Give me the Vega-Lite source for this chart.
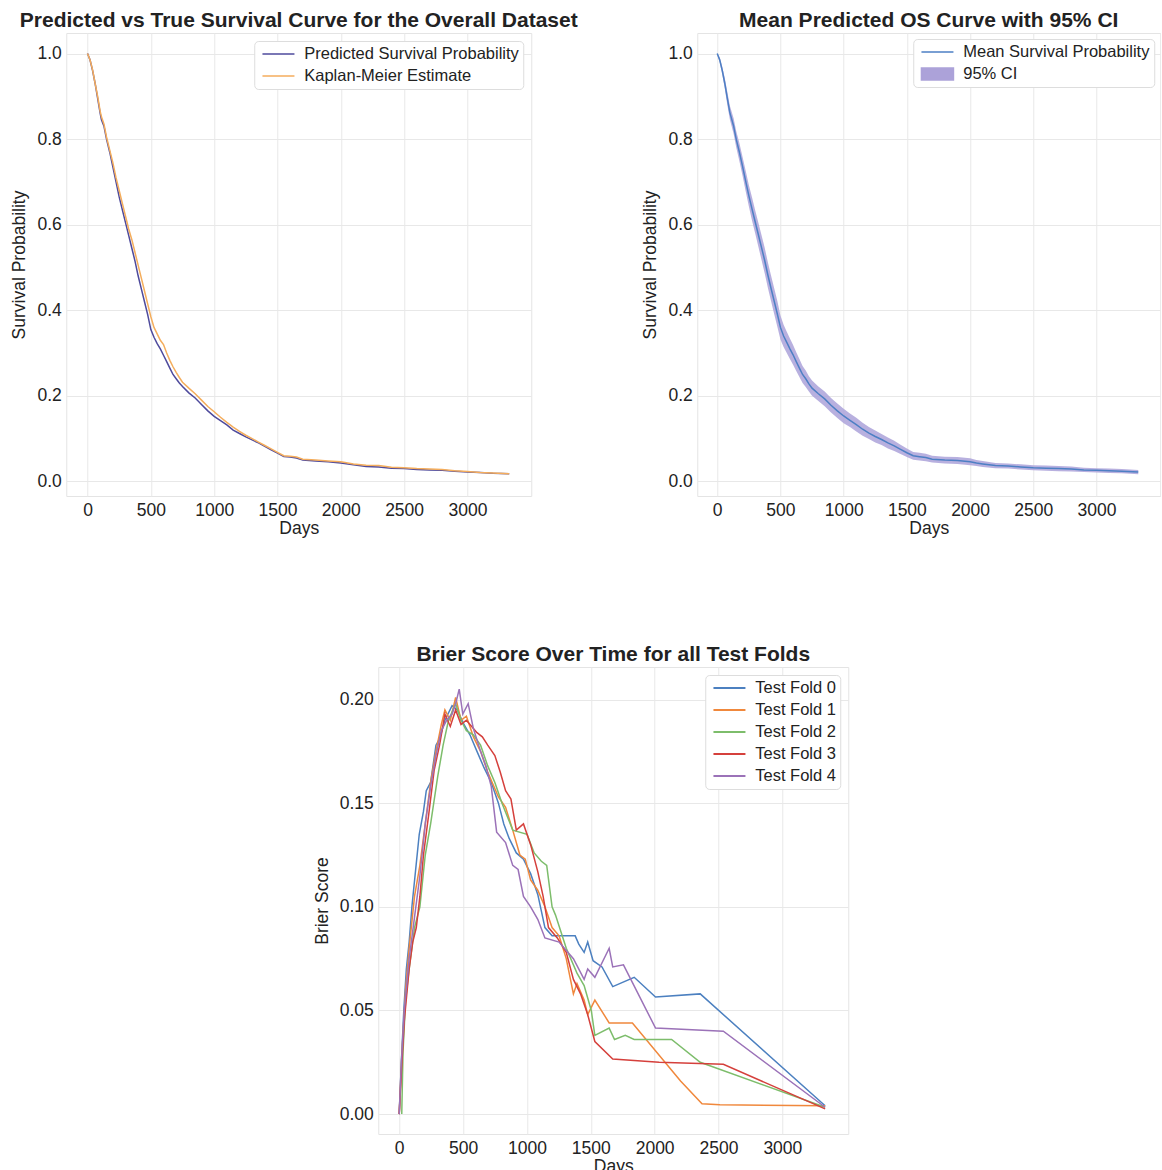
{
  "$schema": "https://vega.github.io/schema/vega-lite/v6.json",
  "padding": {"left": 10, "top": 9, "right": 0, "bottom": 0},
  "background": "white",
  "config": {
    "font": "Liberation Sans",
    "view": {"stroke": "#e4e4e4", "strokeWidth": 1},
    "axis": {"grid": true, "gridColor": "#e8e8e8", "gridWidth": 1, "domain": false, "ticks": false, "labelFontSize": 17.5, "titleFontSize": 17.5, "labelColor": "#222222", "titleColor": "#222222", "titleFontWeight": "normal", "labelPadding": 5, "labelFont": "Liberation Sans", "titleFont": "Liberation Sans"},
    "axisX": {"titlePadding": 1},
    "axisY": {"titlePadding": 8},
    "title": {"fontSize": 21, "fontWeight": "bold", "color": "#222222", "offset": 2, "font": "Liberation Sans"},
    "legend": {"labelFontSize": 16.5, "labelColor": "#222222", "fillColor": "white", "strokeColor": "#dddddd", "cornerRadius": 4, "padding": 4, "rowPadding": 4, "labelOffset": 28, "symbolType": "M-0.6,0H3.4", "symbolSize": 256, "symbolStrokeWidth": 1.5, "title": null, "orient": "top-right", "offset": 8, "labelFont": "Liberation Sans", "labelLimit": 400}
  },
  "datasets": {
    "surv": [
      {"d": 0, "p": 1.0, "k": 1.0}, {"d": 20, "p": 0.985, "k": 0.985}, {"d": 40, "p": 0.96, "k": 0.962}, {"d": 60, "p": 0.93, "k": 0.93},
      {"d": 80, "p": 0.895, "k": 0.9}, {"d": 100, "p": 0.86, "k": 0.865}, {"d": 110, "p": 0.845, "k": 0.852}, {"d": 130, "p": 0.83, "k": 0.835},
      {"d": 150, "p": 0.8, "k": 0.805}, {"d": 175, "p": 0.77, "k": 0.775}, {"d": 200, "p": 0.735, "k": 0.745}, {"d": 225, "p": 0.7, "k": 0.71},
      {"d": 250, "p": 0.665, "k": 0.68}, {"d": 275, "p": 0.635, "k": 0.65}, {"d": 300, "p": 0.605, "k": 0.62}, {"d": 325, "p": 0.575, "k": 0.59},
      {"d": 350, "p": 0.545, "k": 0.565}, {"d": 375, "p": 0.515, "k": 0.535}, {"d": 400, "p": 0.48, "k": 0.505}, {"d": 425, "p": 0.45, "k": 0.475},
      {"d": 450, "p": 0.42, "k": 0.445}, {"d": 475, "p": 0.39, "k": 0.415}, {"d": 500, "p": 0.355, "k": 0.385}, {"d": 525, "p": 0.337, "k": 0.36},
      {"d": 550, "p": 0.322, "k": 0.345}, {"d": 575, "p": 0.31, "k": 0.33}, {"d": 600, "p": 0.295, "k": 0.32}, {"d": 625, "p": 0.28, "k": 0.3},
      {"d": 650, "p": 0.265, "k": 0.283}, {"d": 675, "p": 0.25, "k": 0.268}, {"d": 700, "p": 0.24, "k": 0.255}, {"d": 725, "p": 0.23, "k": 0.243},
      {"d": 750, "p": 0.222, "k": 0.232}, {"d": 800, "p": 0.207, "k": 0.218}, {"d": 850, "p": 0.195, "k": 0.205}, {"d": 900, "p": 0.18, "k": 0.19},
      {"d": 950, "p": 0.165, "k": 0.175}, {"d": 1000, "p": 0.152, "k": 0.163}, {"d": 1050, "p": 0.142, "k": 0.15}, {"d": 1100, "p": 0.132, "k": 0.138},
      {"d": 1150, "p": 0.12, "k": 0.127}, {"d": 1200, "p": 0.112, "k": 0.117}, {"d": 1250, "p": 0.104, "k": 0.108}, {"d": 1300, "p": 0.097, "k": 0.1},
      {"d": 1350, "p": 0.09, "k": 0.092}, {"d": 1400, "p": 0.082, "k": 0.084}, {"d": 1450, "p": 0.074, "k": 0.076}, {"d": 1500, "p": 0.066, "k": 0.068},
      {"d": 1550, "p": 0.058, "k": 0.06}, {"d": 1600, "p": 0.057, "k": 0.059}, {"d": 1650, "p": 0.055, "k": 0.057}, {"d": 1700, "p": 0.05, "k": 0.052},
      {"d": 1800, "p": 0.048, "k": 0.05}, {"d": 1900, "p": 0.046, "k": 0.048}, {"d": 2000, "p": 0.043, "k": 0.046}, {"d": 2100, "p": 0.039, "k": 0.041},
      {"d": 2200, "p": 0.035, "k": 0.038}, {"d": 2300, "p": 0.034, "k": 0.037}, {"d": 2400, "p": 0.031, "k": 0.033}, {"d": 2500, "p": 0.03, "k": 0.032},
      {"d": 2600, "p": 0.028, "k": 0.03}, {"d": 2700, "p": 0.027, "k": 0.029}, {"d": 2800, "p": 0.026, "k": 0.028}, {"d": 2900, "p": 0.024, "k": 0.025},
      {"d": 3000, "p": 0.022, "k": 0.023}, {"d": 3100, "p": 0.021, "k": 0.021}, {"d": 3200, "p": 0.019, "k": 0.02}, {"d": 3330, "p": 0.018, "k": 0.018}
    ],
    "mean": [
      {"d": 0, "m": 1.0, "lo": 0.997, "hi": 1.0}, {"d": 20, "m": 0.985, "lo": 0.979, "hi": 0.991}, {"d": 40, "m": 0.96, "lo": 0.951, "hi": 0.969},
      {"d": 60, "m": 0.93, "lo": 0.918, "hi": 0.942}, {"d": 80, "m": 0.895, "lo": 0.88, "hi": 0.91}, {"d": 100, "m": 0.862, "lo": 0.846, "hi": 0.878},
      {"d": 130, "m": 0.83, "lo": 0.812, "hi": 0.848}, {"d": 150, "m": 0.8, "lo": 0.781, "hi": 0.819}, {"d": 175, "m": 0.77, "lo": 0.749, "hi": 0.791},
      {"d": 200, "m": 0.737, "lo": 0.715, "hi": 0.759}, {"d": 225, "m": 0.702, "lo": 0.678, "hi": 0.726}, {"d": 250, "m": 0.668, "lo": 0.643, "hi": 0.693},
      {"d": 275, "m": 0.637, "lo": 0.61, "hi": 0.664}, {"d": 300, "m": 0.607, "lo": 0.58, "hi": 0.634}, {"d": 325, "m": 0.577, "lo": 0.549, "hi": 0.605},
      {"d": 350, "m": 0.547, "lo": 0.518, "hi": 0.576}, {"d": 375, "m": 0.517, "lo": 0.487, "hi": 0.547}, {"d": 400, "m": 0.483, "lo": 0.453, "hi": 0.513},
      {"d": 425, "m": 0.452, "lo": 0.422, "hi": 0.482}, {"d": 450, "m": 0.422, "lo": 0.392, "hi": 0.452}, {"d": 475, "m": 0.392, "lo": 0.362, "hi": 0.422},
      {"d": 500, "m": 0.36, "lo": 0.332, "hi": 0.388}, {"d": 525, "m": 0.34, "lo": 0.314, "hi": 0.366}, {"d": 550, "m": 0.325, "lo": 0.3, "hi": 0.35},
      {"d": 575, "m": 0.31, "lo": 0.286, "hi": 0.334}, {"d": 600, "m": 0.296, "lo": 0.273, "hi": 0.319}, {"d": 625, "m": 0.28, "lo": 0.258, "hi": 0.302},
      {"d": 650, "m": 0.265, "lo": 0.244, "hi": 0.286}, {"d": 675, "m": 0.25, "lo": 0.23, "hi": 0.27}, {"d": 700, "m": 0.24, "lo": 0.221, "hi": 0.259},
      {"d": 725, "m": 0.228, "lo": 0.21, "hi": 0.246}, {"d": 750, "m": 0.218, "lo": 0.2, "hi": 0.236}, {"d": 800, "m": 0.205, "lo": 0.188, "hi": 0.222},
      {"d": 850, "m": 0.193, "lo": 0.176, "hi": 0.21}, {"d": 900, "m": 0.178, "lo": 0.161, "hi": 0.195}, {"d": 950, "m": 0.165, "lo": 0.148, "hi": 0.182},
      {"d": 1000, "m": 0.153, "lo": 0.136, "hi": 0.17}, {"d": 1050, "m": 0.143, "lo": 0.127, "hi": 0.159}, {"d": 1100, "m": 0.133, "lo": 0.117, "hi": 0.149},
      {"d": 1150, "m": 0.122, "lo": 0.107, "hi": 0.137}, {"d": 1200, "m": 0.113, "lo": 0.099, "hi": 0.127}, {"d": 1250, "m": 0.105, "lo": 0.091, "hi": 0.119},
      {"d": 1300, "m": 0.098, "lo": 0.085, "hi": 0.111}, {"d": 1350, "m": 0.09, "lo": 0.077, "hi": 0.103}, {"d": 1400, "m": 0.083, "lo": 0.071, "hi": 0.095},
      {"d": 1450, "m": 0.075, "lo": 0.064, "hi": 0.086}, {"d": 1500, "m": 0.067, "lo": 0.057, "hi": 0.077}, {"d": 1550, "m": 0.06, "lo": 0.051, "hi": 0.069},
      {"d": 1600, "m": 0.058, "lo": 0.049, "hi": 0.067}, {"d": 1650, "m": 0.056, "lo": 0.047, "hi": 0.065}, {"d": 1700, "m": 0.052, "lo": 0.044, "hi": 0.06},
      {"d": 1800, "m": 0.05, "lo": 0.042, "hi": 0.058}, {"d": 1900, "m": 0.049, "lo": 0.041, "hi": 0.057}, {"d": 2000, "m": 0.046, "lo": 0.038, "hi": 0.054},
      {"d": 2050, "m": 0.043, "lo": 0.036, "hi": 0.05}, {"d": 2100, "m": 0.041, "lo": 0.034, "hi": 0.048}, {"d": 2200, "m": 0.037, "lo": 0.031, "hi": 0.043},
      {"d": 2300, "m": 0.036, "lo": 0.03, "hi": 0.042}, {"d": 2400, "m": 0.034, "lo": 0.028, "hi": 0.04}, {"d": 2500, "m": 0.032, "lo": 0.026, "hi": 0.038},
      {"d": 2600, "m": 0.031, "lo": 0.025, "hi": 0.037}, {"d": 2700, "m": 0.03, "lo": 0.024, "hi": 0.036}, {"d": 2800, "m": 0.029, "lo": 0.023, "hi": 0.035},
      {"d": 2900, "m": 0.027, "lo": 0.022, "hi": 0.032}, {"d": 3000, "m": 0.026, "lo": 0.021, "hi": 0.031}, {"d": 3100, "m": 0.025, "lo": 0.02, "hi": 0.03},
      {"d": 3200, "m": 0.024, "lo": 0.019, "hi": 0.029}, {"d": 3330, "m": 0.022, "lo": 0.017, "hi": 0.027}
    ],
    "brier": [
      {"f": "Test Fold 0", "d": 0, "b": 0}, {"f": "Test Fold 0", "d": 17, "b": 0.025}, {"f": "Test Fold 0", "d": 36, "b": 0.05}, {"f": "Test Fold 0", "d": 56, "b": 0.07},
      {"f": "Test Fold 0", "d": 78, "b": 0.083}, {"f": "Test Fold 0", "d": 101, "b": 0.101}, {"f": "Test Fold 0", "d": 129, "b": 0.118}, {"f": "Test Fold 0", "d": 157, "b": 0.135},
      {"f": "Test Fold 0", "d": 190, "b": 0.146}, {"f": "Test Fold 0", "d": 212, "b": 0.156}, {"f": "Test Fold 0", "d": 246, "b": 0.16}, {"f": "Test Fold 0", "d": 288, "b": 0.178},
      {"f": "Test Fold 0", "d": 316, "b": 0.181}, {"f": "Test Fold 0", "d": 358, "b": 0.19}, {"f": "Test Fold 0", "d": 414, "b": 0.197}, {"f": "Test Fold 0", "d": 456, "b": 0.195},
      {"f": "Test Fold 0", "d": 498, "b": 0.189}, {"f": "Test Fold 0", "d": 554, "b": 0.183}, {"f": "Test Fold 0", "d": 609, "b": 0.175}, {"f": "Test Fold 0", "d": 665, "b": 0.167},
      {"f": "Test Fold 0", "d": 721, "b": 0.16}, {"f": "Test Fold 0", "d": 777, "b": 0.15}, {"f": "Test Fold 0", "d": 819, "b": 0.14}, {"f": "Test Fold 0", "d": 861, "b": 0.133},
      {"f": "Test Fold 0", "d": 917, "b": 0.126}, {"f": "Test Fold 0", "d": 973, "b": 0.123}, {"f": "Test Fold 0", "d": 1029, "b": 0.116}, {"f": "Test Fold 0", "d": 1085, "b": 0.106},
      {"f": "Test Fold 0", "d": 1141, "b": 0.09}, {"f": "Test Fold 0", "d": 1197, "b": 0.086}, {"f": "Test Fold 0", "d": 1252, "b": 0.086}, {"f": "Test Fold 0", "d": 1378, "b": 0.086},
      {"f": "Test Fold 0", "d": 1406, "b": 0.082}, {"f": "Test Fold 0", "d": 1448, "b": 0.078}, {"f": "Test Fold 0", "d": 1476, "b": 0.083}, {"f": "Test Fold 0", "d": 1518, "b": 0.074},
      {"f": "Test Fold 0", "d": 1588, "b": 0.071}, {"f": "Test Fold 0", "d": 1672, "b": 0.0615}, {"f": "Test Fold 0", "d": 1840, "b": 0.066}, {"f": "Test Fold 0", "d": 2007, "b": 0.0565},
      {"f": "Test Fold 0", "d": 2357, "b": 0.058}, {"f": "Test Fold 0", "d": 3335, "b": 0.004},
      {"f": "Test Fold 1", "d": 0, "b": 0}, {"f": "Test Fold 1", "d": 22, "b": 0.03}, {"f": "Test Fold 1", "d": 50, "b": 0.06}, {"f": "Test Fold 1", "d": 78, "b": 0.08},
      {"f": "Test Fold 1", "d": 120, "b": 0.105}, {"f": "Test Fold 1", "d": 162, "b": 0.12}, {"f": "Test Fold 1", "d": 204, "b": 0.14}, {"f": "Test Fold 1", "d": 246, "b": 0.16},
      {"f": "Test Fold 1", "d": 288, "b": 0.175}, {"f": "Test Fold 1", "d": 330, "b": 0.188}, {"f": "Test Fold 1", "d": 358, "b": 0.195}, {"f": "Test Fold 1", "d": 400, "b": 0.19},
      {"f": "Test Fold 1", "d": 442, "b": 0.201}, {"f": "Test Fold 1", "d": 484, "b": 0.19}, {"f": "Test Fold 1", "d": 526, "b": 0.192}, {"f": "Test Fold 1", "d": 581, "b": 0.182},
      {"f": "Test Fold 1", "d": 637, "b": 0.175}, {"f": "Test Fold 1", "d": 693, "b": 0.165}, {"f": "Test Fold 1", "d": 777, "b": 0.153}, {"f": "Test Fold 1", "d": 833, "b": 0.148},
      {"f": "Test Fold 1", "d": 889, "b": 0.137}, {"f": "Test Fold 1", "d": 945, "b": 0.125}, {"f": "Test Fold 1", "d": 987, "b": 0.123}, {"f": "Test Fold 1", "d": 1029, "b": 0.113},
      {"f": "Test Fold 1", "d": 1085, "b": 0.108}, {"f": "Test Fold 1", "d": 1141, "b": 0.1}, {"f": "Test Fold 1", "d": 1197, "b": 0.09}, {"f": "Test Fold 1", "d": 1252, "b": 0.086},
      {"f": "Test Fold 1", "d": 1308, "b": 0.075}, {"f": "Test Fold 1", "d": 1364, "b": 0.058}, {"f": "Test Fold 1", "d": 1392, "b": 0.063}, {"f": "Test Fold 1", "d": 1448, "b": 0.055},
      {"f": "Test Fold 1", "d": 1476, "b": 0.048}, {"f": "Test Fold 1", "d": 1532, "b": 0.055}, {"f": "Test Fold 1", "d": 1644, "b": 0.044}, {"f": "Test Fold 1", "d": 1826, "b": 0.044},
      {"f": "Test Fold 1", "d": 2203, "b": 0.016}, {"f": "Test Fold 1", "d": 2371, "b": 0.005}, {"f": "Test Fold 1", "d": 2511, "b": 0.0045}, {"f": "Test Fold 1", "d": 3335, "b": 0.004},
      {"f": "Test Fold 2", "d": 20, "b": 0}, {"f": "Test Fold 2", "d": 30, "b": 0.03}, {"f": "Test Fold 2", "d": 50, "b": 0.055}, {"f": "Test Fold 2", "d": 78, "b": 0.07},
      {"f": "Test Fold 2", "d": 120, "b": 0.09}, {"f": "Test Fold 2", "d": 162, "b": 0.1}, {"f": "Test Fold 2", "d": 204, "b": 0.125}, {"f": "Test Fold 2", "d": 246, "b": 0.14},
      {"f": "Test Fold 2", "d": 302, "b": 0.163}, {"f": "Test Fold 2", "d": 344, "b": 0.178}, {"f": "Test Fold 2", "d": 386, "b": 0.19}, {"f": "Test Fold 2", "d": 442, "b": 0.198},
      {"f": "Test Fold 2", "d": 484, "b": 0.19}, {"f": "Test Fold 2", "d": 526, "b": 0.185}, {"f": "Test Fold 2", "d": 581, "b": 0.183}, {"f": "Test Fold 2", "d": 637, "b": 0.178},
      {"f": "Test Fold 2", "d": 693, "b": 0.168}, {"f": "Test Fold 2", "d": 749, "b": 0.16}, {"f": "Test Fold 2", "d": 805, "b": 0.15}, {"f": "Test Fold 2", "d": 889, "b": 0.137},
      {"f": "Test Fold 2", "d": 1001, "b": 0.135}, {"f": "Test Fold 2", "d": 1057, "b": 0.126}, {"f": "Test Fold 2", "d": 1113, "b": 0.122}, {"f": "Test Fold 2", "d": 1155, "b": 0.12},
      {"f": "Test Fold 2", "d": 1197, "b": 0.1}, {"f": "Test Fold 2", "d": 1224, "b": 0.096}, {"f": "Test Fold 2", "d": 1308, "b": 0.08}, {"f": "Test Fold 2", "d": 1392, "b": 0.068},
      {"f": "Test Fold 2", "d": 1448, "b": 0.062}, {"f": "Test Fold 2", "d": 1504, "b": 0.05}, {"f": "Test Fold 2", "d": 1532, "b": 0.038}, {"f": "Test Fold 2", "d": 1644, "b": 0.0415},
      {"f": "Test Fold 2", "d": 1686, "b": 0.036}, {"f": "Test Fold 2", "d": 1770, "b": 0.038}, {"f": "Test Fold 2", "d": 1840, "b": 0.036}, {"f": "Test Fold 2", "d": 2133, "b": 0.036},
      {"f": "Test Fold 2", "d": 2357, "b": 0.025}, {"f": "Test Fold 2", "d": 3335, "b": 0.0033},
      {"f": "Test Fold 3", "d": 0, "b": 0}, {"f": "Test Fold 3", "d": 17, "b": 0.02}, {"f": "Test Fold 3", "d": 40, "b": 0.045}, {"f": "Test Fold 3", "d": 78, "b": 0.07},
      {"f": "Test Fold 3", "d": 106, "b": 0.083}, {"f": "Test Fold 3", "d": 134, "b": 0.09}, {"f": "Test Fold 3", "d": 162, "b": 0.105}, {"f": "Test Fold 3", "d": 190, "b": 0.125},
      {"f": "Test Fold 3", "d": 232, "b": 0.145}, {"f": "Test Fold 3", "d": 274, "b": 0.166}, {"f": "Test Fold 3", "d": 316, "b": 0.178}, {"f": "Test Fold 3", "d": 358, "b": 0.193},
      {"f": "Test Fold 3", "d": 400, "b": 0.187}, {"f": "Test Fold 3", "d": 442, "b": 0.195}, {"f": "Test Fold 3", "d": 484, "b": 0.188}, {"f": "Test Fold 3", "d": 526, "b": 0.19},
      {"f": "Test Fold 3", "d": 609, "b": 0.184}, {"f": "Test Fold 3", "d": 651, "b": 0.182}, {"f": "Test Fold 3", "d": 693, "b": 0.178}, {"f": "Test Fold 3", "d": 749, "b": 0.173},
      {"f": "Test Fold 3", "d": 791, "b": 0.165}, {"f": "Test Fold 3", "d": 833, "b": 0.156}, {"f": "Test Fold 3", "d": 875, "b": 0.152}, {"f": "Test Fold 3", "d": 917, "b": 0.137},
      {"f": "Test Fold 3", "d": 973, "b": 0.14}, {"f": "Test Fold 3", "d": 1029, "b": 0.13}, {"f": "Test Fold 3", "d": 1085, "b": 0.117}, {"f": "Test Fold 3", "d": 1127, "b": 0.105},
      {"f": "Test Fold 3", "d": 1169, "b": 0.09}, {"f": "Test Fold 3", "d": 1238, "b": 0.085}, {"f": "Test Fold 3", "d": 1308, "b": 0.078}, {"f": "Test Fold 3", "d": 1364, "b": 0.065},
      {"f": "Test Fold 3", "d": 1420, "b": 0.058}, {"f": "Test Fold 3", "d": 1476, "b": 0.048}, {"f": "Test Fold 3", "d": 1532, "b": 0.035}, {"f": "Test Fold 3", "d": 1672, "b": 0.0266},
      {"f": "Test Fold 3", "d": 2035, "b": 0.025}, {"f": "Test Fold 3", "d": 2538, "b": 0.024}, {"f": "Test Fold 3", "d": 3335, "b": 0.0025},
      {"f": "Test Fold 4", "d": 0, "b": 0}, {"f": "Test Fold 4", "d": 17, "b": 0.025}, {"f": "Test Fold 4", "d": 40, "b": 0.05}, {"f": "Test Fold 4", "d": 78, "b": 0.075},
      {"f": "Test Fold 4", "d": 120, "b": 0.095}, {"f": "Test Fold 4", "d": 162, "b": 0.115}, {"f": "Test Fold 4", "d": 204, "b": 0.14}, {"f": "Test Fold 4", "d": 246, "b": 0.158},
      {"f": "Test Fold 4", "d": 288, "b": 0.173}, {"f": "Test Fold 4", "d": 330, "b": 0.185}, {"f": "Test Fold 4", "d": 372, "b": 0.19}, {"f": "Test Fold 4", "d": 414, "b": 0.193},
      {"f": "Test Fold 4", "d": 442, "b": 0.198}, {"f": "Test Fold 4", "d": 470, "b": 0.205}, {"f": "Test Fold 4", "d": 498, "b": 0.193}, {"f": "Test Fold 4", "d": 540, "b": 0.198},
      {"f": "Test Fold 4", "d": 581, "b": 0.186}, {"f": "Test Fold 4", "d": 637, "b": 0.175}, {"f": "Test Fold 4", "d": 679, "b": 0.168}, {"f": "Test Fold 4", "d": 721, "b": 0.158},
      {"f": "Test Fold 4", "d": 763, "b": 0.136}, {"f": "Test Fold 4", "d": 833, "b": 0.131}, {"f": "Test Fold 4", "d": 889, "b": 0.12}, {"f": "Test Fold 4", "d": 931, "b": 0.118},
      {"f": "Test Fold 4", "d": 973, "b": 0.105}, {"f": "Test Fold 4", "d": 1029, "b": 0.1}, {"f": "Test Fold 4", "d": 1085, "b": 0.094}, {"f": "Test Fold 4", "d": 1141, "b": 0.085},
      {"f": "Test Fold 4", "d": 1252, "b": 0.083}, {"f": "Test Fold 4", "d": 1364, "b": 0.075}, {"f": "Test Fold 4", "d": 1448, "b": 0.065}, {"f": "Test Fold 4", "d": 1476, "b": 0.07},
      {"f": "Test Fold 4", "d": 1532, "b": 0.066}, {"f": "Test Fold 4", "d": 1644, "b": 0.08}, {"f": "Test Fold 4", "d": 1672, "b": 0.071}, {"f": "Test Fold 4", "d": 1756, "b": 0.072},
      {"f": "Test Fold 4", "d": 2007, "b": 0.0415}, {"f": "Test Fold 4", "d": 2538, "b": 0.04}, {"f": "Test Fold 4", "d": 3335, "b": 0.0033}
    ]
  },
  "vconcat": [
    {
      "hconcat": [
        {
          "width": 465, "height": 463,
          "title": "Predicted vs True Survival Curve for the Overall Dataset",
          "data": {"name": "surv"},
          "layer": [
            {"mark": {"type": "line", "strokeWidth": 1.5},
             "encoding": {
               "x": {"field": "d", "type": "quantitative", "title": "Days", "scale": {"domain": [-168, 3504], "nice": false, "zero": false}, "axis": {"values": [0, 500, 1000, 1500, 2000, 2500, 3000], "format": "d"}},
               "y": {"field": "p", "type": "quantitative", "title": "Survival Probability", "scale": {"domain": [-0.034, 1.048], "nice": false, "zero": false}, "axis": {"values": [0, 0.2, 0.4, 0.6, 0.8, 1.0], "format": ".1f"}},
               "color": {"datum": "Predicted Survival Probability", "type": "nominal", "scale": {"domain": ["Predicted Survival Probability", "Kaplan-Meier Estimate"], "range": ["#4e4a9c", "#f4ad5c"]}, "legend": {"title": null}}
             }},
            {"mark": {"type": "line", "strokeWidth": 1.5},
             "encoding": {
               "x": {"field": "d", "type": "quantitative"},
               "y": {"field": "k", "type": "quantitative"},
               "color": {"datum": "Kaplan-Meier Estimate", "type": "nominal"}
             }}
          ]
        },
        {
          "width": 463, "height": 463,
          "title": "Mean Predicted OS Curve with 95% CI",
          "data": {"name": "mean"},
          "layer": [
            {"mark": {"type": "area", "opacity": 0.85},
             "encoding": {
               "x": {"field": "d", "type": "quantitative", "title": "Days", "scale": {"domain": [-158, 3504], "nice": false, "zero": false}, "axis": {"values": [0, 500, 1000, 1500, 2000, 2500, 3000], "format": "d"}},
               "y": {"field": "lo", "type": "quantitative", "title": "Survival Probability", "scale": {"domain": [-0.034, 1.048], "nice": false, "zero": false}, "axis": {"values": [0, 0.2, 0.4, 0.6, 0.8, 1.0], "format": ".1f"}},
               "y2": {"field": "hi"},
               "color": {"datum": "95% CI", "type": "nominal", "scale": {"domain": ["Mean Survival Probability", "95% CI"], "range": ["#4d7fc4", "#aca2d9"]},
                 "legend": {"title": null, "offset": 6,
                   "encode": {"symbols": {"update": {
                     "shape": {"signal": "datum.value === '95% CI' ? 'M-0.6,-0.75H3.4V0.75H-0.6Z' : 'M-0.6,0H3.4'"},
                     "fill": {"signal": "datum.value === '95% CI' ? '#b6aee0' : 'transparent'"},
                     "stroke": {"signal": "datum.value === '95% CI' ? '#b6aee0' : '#4d7fc4'"},
                     "strokeWidth": {"value": 1.5},
                     "opacity": {"value": 1}
                   }}}}}
             }},
            {"mark": {"type": "line", "strokeWidth": 1.5},
             "encoding": {
               "x": {"field": "d", "type": "quantitative"},
               "y": {"field": "m", "type": "quantitative"},
               "color": {"datum": "Mean Survival Probability", "type": "nominal",
                 "legend": {"title": null, "offset": 6,
                   "encode": {"symbols": {"update": {
                     "shape": {"signal": "datum.value === '95% CI' ? 'M-0.6,-0.75H3.4V0.75H-0.6Z' : 'M-0.6,0H3.4'"},
                     "fill": {"signal": "datum.value === '95% CI' ? '#b6aee0' : 'transparent'"},
                     "stroke": {"signal": "datum.value === '95% CI' ? '#b6aee0' : '#4d7fc4'"},
                     "strokeWidth": {"value": 1.5},
                     "opacity": {"value": 1}
                   }}}}}
             }}
          ]
        }
      ],
      "spacing": 63,
      "resolve": {"scale": {"color": "independent"}, "legend": {"color": "independent"}}
    },
    {
      "width": 470, "height": 467,
      "title": "Brier Score Over Time for all Test Folds",
      "data": {"name": "brier"},
      "mark": {"type": "line", "strokeWidth": 1.5},
      "encoding": {
        "x": {"field": "d", "type": "quantitative", "title": "Days", "scale": {"domain": [-164, 3516], "nice": false, "zero": false}, "axis": {"values": [0, 500, 1000, 1500, 2000, 2500, 3000], "format": "d"}},
        "y": {"field": "b", "type": "quantitative", "title": "Brier Score", "scale": {"domain": [-0.0096, 0.2157], "nice": false, "zero": false}, "axis": {"values": [0, 0.05, 0.1, 0.15, 0.2], "format": ".2f"}},
        "color": {"field": "f", "type": "nominal", "scale": {"domain": ["Test Fold 0", "Test Fold 1", "Test Fold 2", "Test Fold 3", "Test Fold 4"], "range": ["#4c80c0", "#f0883c", "#7dbd6b", "#d5403c", "#9b72b8"]}, "legend": {"title": null, "offset": 8, "symbolStrokeWidth": 2}}
      }
    }
  ],
  "spacing": 105,
  "center": true,
  "resolve": {"scale": {"color": "independent"}, "legend": {"color": "independent"}}
}
